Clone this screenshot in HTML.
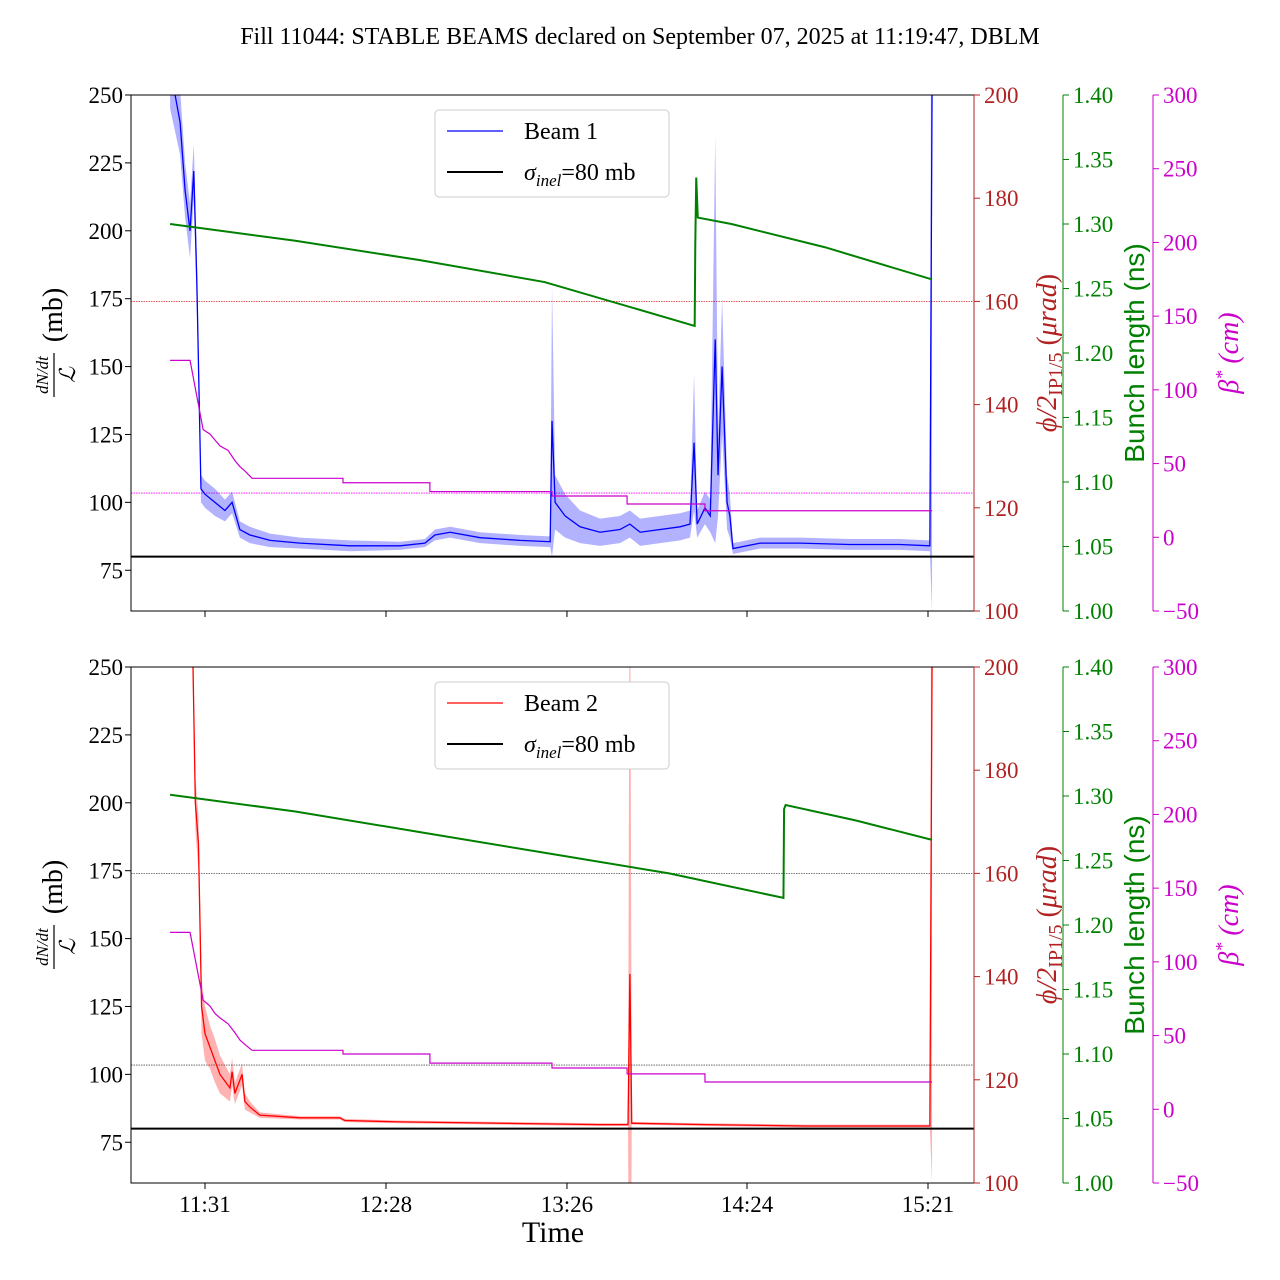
<!DOCTYPE html>
<html><head><meta charset="utf-8"><style>
html,body{margin:0;padding:0;background:#fff;width:1280px;height:1280px;overflow:hidden;}
svg{display:block;font-family:"Liberation Serif","DejaVu Serif",serif;}
</style></head><body>
<svg id="c" width="1280" height="1280" viewBox="0 0 1280 1280">
<text x="640" y="44" font-size="24" text-anchor="middle">Fill 11044: STABLE BEAMS declared on September 07, 2025 at 11:19:47, DBLM</text>
</svg>
<script>
// time in minutes since 11:00
const tickLabels=["11:31","12:28","13:26","14:24","15:21"];
const tickMins=[31.0,89.1,147.2,205.0,263.1];
// Beam 1 normalised rate (mb) and band spread
const b1T=[19.8,23,24.6,26.2,27.4,28.4,29.7,31,34.2,37.4,39.7,42.2,45.4,51.9,61.5,77.5,93.6,101.6,104.8,109.7,119.3,132.1,141.8,142.4,143.4,146.6,151.4,157.8,164.2,167.4,170.7,183.5,186.7,188,189,191.5,193.2,194.8,195.7,197,198.6,199.5,200.5,209.2,222,238,254,263.7,264.4];
const b1V=[260,240,215,200,222,180,105,103,100,97,100,90,88,86,85,84,84,85,88,89,87,86,85.5,130,100,95,91,89,90,92,89,91,92,122,92,98,95,160,110,150,100,95,83,85,85,84.5,84.5,84,250];
const b1S=[15,12,10,10,10,10,5,5,5,4,4,3,3,2.5,2,2,1.5,1.5,2,2,2,2,2,50,10,8,6,5,5,5,5,5,5,25,5,6,6,75,15,25,10,8,2,2,2,2,2,2,190];
// Beam 2
const b2T=[27,27.9,28.9,29.9,31,32.6,34.2,35.8,39,39.7,40.6,42.9,43.8,45.4,48.6,61.5,74.3,75.9,93.6,125.7,157.8,166.8,167.4,168,191.5,223.6,263.7,264.4];
const b2V=[260,200,185,125,115,110,105,100,95,101,93,100,90,88,85,84,84,83,82.5,82,81.5,81.5,137,82,81.5,81,81,250];
const b2S=[10,10,10,10,10,8,8,7,5,5,4,4,3,2,1,0.6,0.6,0.6,0.5,0.5,0.5,0.5,190,0.5,0.5,0.5,0.5,190];
// Bunch length (ns)
const bl1T=[19.8,60,100,140,188.2,188.4,188.7,189.2,200,230,264.4];
const bl1V=[1.300,1.287,1.272,1.255,1.221,1.285,1.336,1.305,1.300,1.282,1.257];
const bl2T=[19.8,60,100,140,180,216.7,216.9,217.4,240,264.4];
const bl2V=[1.301,1.288,1.272,1.256,1.240,1.221,1.290,1.293,1.281,1.266];
// beta* (cm), step-post
const be1T=[19.8,26.2,30.4,32.6,34.2,35.8,38.4,40.6,42.2,43.8,46.1,75.3,103.2,142.4,166.5,191.5,264.4];
const be1V=[120,120,73,70,66,62,59,52,48,45,40,37,31,28,22.6,18,18];
const be2V=[120,120,74,70,65,62,58,52,47,44,40,37.5,31.3,28,24,18.5,18.5];
const xingRef=[160];
const betaRef=[30];
const sigmaInel=[80];

const NS="http://www.w3.org/2000/svg";
const svg=document.getElementById('c');
function el(tag,attrs,parent,text){const e=document.createElementNS(NS,tag);for(const k in attrs)e.setAttribute(k,attrs[k]);if(text!==undefined)e.textContent=text;(parent||svg).appendChild(e);return e;}
const X0=131,X1=974;
const xS=m=>205+(m-31)*3.115;
function panel(top,beam){
  const H=516;
  const yL=v=>top+(250-v)/190*H, yR=v=>top+(200-v)/100*H, yG=v=>top+(1.4-v)/0.4*H, yM=v=>top+(300-v)/350*H;
  const g=el('g',{},svg);
  
  
  const cid='clip'+beam;
  const cp=el('clipPath',{id:cid},g);el('rect',{x:X0,y:top,width:X1-X0,height:H},cp);
  const p=el('g',{'clip-path':'url(#'+cid+')'},g);
  const T=beam==1?b1T:b2T,V=beam==1?b1V:b2V,S=beam==1?b1S:b2S;
  const col=beam==1?'#0000ff':'#ff0000';
  const dcol1=beam==1?'#d62728':'#555', dcol2=beam==1?'#ff00ff':'#555';
  const r1=el('line',{x1:X0,x2:X1,y1:yR(xingRef[0]),y2:yR(xingRef[0]),stroke:dcol1,'stroke-width':0.8,'stroke-dasharray':'1.5,1'},p);
  
  
  const r2=el('line',{x1:X0,x2:X1,y1:yM(betaRef[0]),y2:yM(betaRef[0]),stroke:dcol2,'stroke-width':0.8,'stroke-dasharray':'1.5,1'},p);
  
  
  let d='';T.forEach((t,i)=>{d+=(i?'L':'M')+xS(t)+','+yL(V[i]+S[i]);});
  for(let i=T.length-1;i>=0;i--)d+='L'+xS(T[i])+','+yL(V[i]-S[i]);
  const band=el('path',{d:d+'Z',fill:col,'fill-opacity':0.3,stroke:'none'},p);
  
  
  const ln=el('polyline',{points:T.map((t,i)=>xS(t)+','+yL(V[i])).join(' '),fill:'none',stroke:col,'stroke-width':1.3},p);
  
  
  const BT=beam==1?bl1T:bl2T,BV=beam==1?bl1V:bl2V;
  const bl=el('polyline',{points:BT.map((t,i)=>xS(t)+','+yG(BV[i])).join(' '),fill:'none',stroke:'#008000','stroke-width':2},p);
  
  
  const EV=beam==1?be1V:be2V;let pts=[];
  be1T.forEach((t,i)=>{if(i<=10&&i>=2){pts.push([t,EV[i]]);}else{if(i>0)pts.push([t,EV[i-1]]);pts.push([t,EV[i]]);}});
  const bt=el('polyline',{points:pts.map(q=>xS(q[0])+','+yM(q[1])).join(' '),fill:'none',stroke:'#cc00cc','stroke-width':1.2},p);
  
  
  const si=el('line',{x1:X0,x2:X1,y1:yL(sigmaInel[0]),y2:yL(sigmaInel[0]),stroke:'#000','stroke-width':2},p);
  
  
  el('rect',{x:X0,y:top,width:X1-X0,height:H,fill:'none',stroke:'#000','stroke-width':1},g);
  [75,100,125,150,175,200,225,250].forEach(v=>{const y=yL(v);el('line',{x1:X0-6,x2:X0,y1:y,y2:y,stroke:'#000'},g);
    const t=el('text',{x:X0-8,y:y+8,'font-size':23,'text-anchor':'end'},g,String(v));});
  tickMins.forEach((m,i)=>{const x=xS(m);el('line',{x1:x,x2:x,y1:top+H,y2:top+H+6,stroke:'#000'},g);
    if(beam==2){const t=el('text',{x:x,y:top+H+29,'font-size':23,'text-anchor':'middle'},g,tickLabels[i]);}});
  const axes=[[974,'#b22222',[100,120,140,160,180,200],yR,v=>String(v)],[1063,'#008000',[1.0,1.05,1.1,1.15,1.2,1.25,1.3,1.35,1.4],yG,v=>v.toFixed(2)],[1153,'#cc00cc',[-50,0,50,100,150,200,250,300],yM,v=>v<0?'\u2212'+(-v):String(v)]];
  axes.forEach(a=>{el('line',{x1:a[0],x2:a[0],y1:top,y2:top+H,stroke:a[1]},g);
    a[2].forEach(v=>{const y=a[3](v);el('line',{x1:a[0],x2:a[0]+6,y1:y,y2:y,stroke:a[1]},g);
      const t=el('text',{x:a[0]+10,y:y+8,'font-size':23,fill:a[1]},g,a[4](v));});});
  const cy=top+H/2;
  const yl=el('g',{transform:`translate(62,${cy}) rotate(-90)`},g);
  
  el('text',{x:-22,y:-14,'font-size':17,'font-style':'italic','text-anchor':'middle'},yl,'dN/dt');
  el('line',{x1:-44,x2:0,y1:-8,y2:-8,stroke:'#000','stroke-width':1.2},yl);
  el('text',{x:-22,y:13,'font-size':22,'font-style':'italic','text-anchor':'middle'},yl,'\u2112');
  el('text',{x:38,y:0,'font-size':28,'text-anchor':'middle'},yl,'(mb)');
  const rl=el('text',{transform:`translate(1056,${cy}) rotate(-90)`,'font-size':28,fill:'#b22222','text-anchor':'middle'},g);
  
  rl.innerHTML='<tspan font-style="italic">\u03d5/2</tspan><tspan font-size="20" dy="6">IP1/5</tspan><tspan dy="-6"> (</tspan><tspan font-style="italic">\u03bcrad</tspan>)';
  const gl=el('text',{transform:`translate(1144,${cy}) rotate(-90)`,'font-size':28,fill:'#008000','text-anchor':'middle','font-family':'Liberation Sans, sans-serif'},g,'Bunch length (ns)');
  
  const ml=el('text',{transform:`translate(1238,${cy}) rotate(-90)`,'font-size':28,fill:'#cc00cc','text-anchor':'middle','font-style':'italic'},g);
  
  ml.innerHTML='\u03b2<tspan font-size="18" dy="-10">*</tspan><tspan dy="10"> (cm)</tspan>';
  const lg=el('g',{},g);
  el('rect',{x:435,y:top+15,width:234,height:87,rx:4,fill:'#fff',stroke:'#ccc'},lg);
  el('line',{x1:447,x2:503,y1:top+36,y2:top+36,stroke:col,'stroke-width':1.3},lg);
  el('text',{x:524,y:top+44,'font-size':24},lg,'Beam '+beam);
  el('line',{x1:447,x2:503,y1:top+77,y2:top+77,stroke:'#000','stroke-width':2},lg);
  const st=el('text',{x:524,y:top+85,'font-size':24},lg);
  st.innerHTML='<tspan font-style="italic">\u03c3</tspan><tspan font-size="17" dy="6" font-style="italic">inel</tspan><tspan dy="-6">=80 mb</tspan>';
}
panel(95,1);panel(667,2);
const tl=el('text',{x:553,y:1242,'font-size':30,'text-anchor':'middle'},svg,'Time');


</script>
</body></html>
